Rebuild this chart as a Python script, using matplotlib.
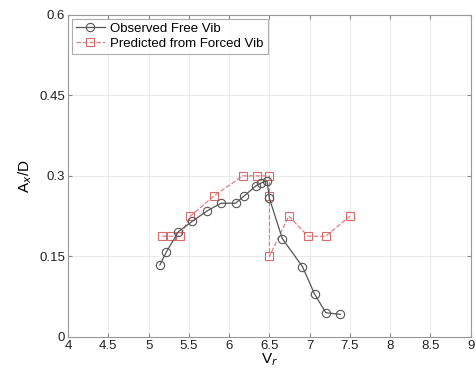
import matplotlib
matplotlib.use('Agg')
import matplotlib.pyplot as plt

plt.rcParams['font.family'] = ['Liberation Sans', 'DejaVu Sans']

# observed free vibration
free_vr = [5.14, 5.22, 5.37, 5.54, 5.73, 5.90, 6.08, 6.19, 6.33, 6.40, 6.47,
           6.50, 6.66, 6.91, 7.06, 7.20, 7.38]
free_amp = [0.134, 0.158, 0.196, 0.215, 0.235, 0.249, 0.249, 0.263, 0.281,
            0.287, 0.291, 0.258, 0.183, 0.131, 0.080, 0.045, 0.042]

# predicted from forced vibration
forced_vr = [5.17, 5.28, 5.39, 5.52, 5.81, 6.17, 6.34, 6.50, 6.50, 6.50,
             6.74, 6.98, 7.20, 7.50]
forced_amp = [0.1875, 0.1875, 0.1875, 0.225, 0.2625, 0.30, 0.30, 0.30,
              0.2625, 0.15, 0.225, 0.1875, 0.1875, 0.225]

xticks = [4, 4.5, 5, 5.5, 6, 6.5, 7, 7.5, 8, 8.5, 9]
xticklabels = ['4', '4.5', '5', '5.5', '6', '6.5', '7', '7.5', '8', '8.5', '9']
yticks = [0, 0.15, 0.3, 0.45, 0.6]
yticklabels = ['0', '0.15', '0.3', '0.45', '0.6']

fig = plt.figure(figsize=(4.76, 3.71), dpi=100)
ax = fig.add_axes([0.143, 0.092, 0.846, 0.868])

ax.plot(free_vr, free_amp, color='#555555', linewidth=0.9, marker='o',
        markersize=6, markerfacecolor='none', markeredgecolor='#555555',
        markeredgewidth=0.8, label='Observed Free Vib', zorder=3)
ax.plot(forced_vr, forced_amp, color='#e08080', linewidth=0.9, linestyle='--',
        marker='s', markersize=5.5, markerfacecolor='none',
        markeredgecolor='#d96a6a', markeredgewidth=0.8,
        label='Predicted from Forced Vib', zorder=2)

ax.set_xlim(4, 9)
ax.set_ylim(0, 0.6)
ax.set_xticks(xticks)
ax.set_xticklabels(xticklabels)
ax.set_yticks(yticks)
ax.set_yticklabels(yticklabels)
ax.tick_params(labelsize=9.5, direction='in', length=3, color='#888888', pad=2,
               top=True, right=True, labelcolor='#222222')
ax.grid(True, color='#e6e6e6', linewidth=0.6)
for s in ax.spines.values():
    s.set_color('#999999')
    s.set_linewidth(0.8)

ax.set_xlabel('V$_r$', fontsize=11, labelpad=0)
ax.set_ylabel('A$_x$/D', fontsize=11, labelpad=4)

leg = ax.legend(loc='upper left', fontsize=9.5, frameon=True, fancybox=False,
                borderpad=0.3, labelspacing=0.2, handlelength=2.2,
                handletextpad=0.4, borderaxespad=0.3)
leg.get_frame().set_edgecolor('#999999')
leg.get_frame().set_linewidth(0.8)

fig.savefig('out.png', dpi=100)
